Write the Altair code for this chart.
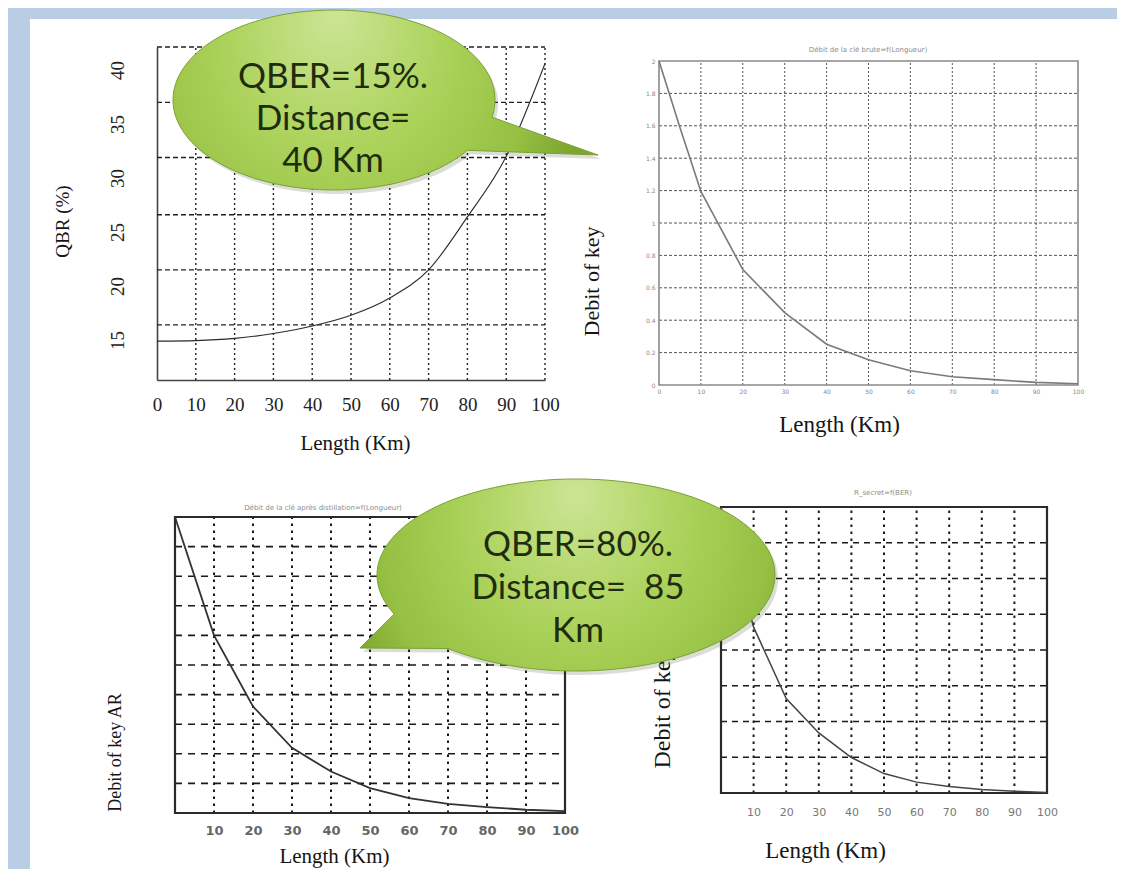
import math
import altair as alt
import pandas as pd

W, H = 1109, 861   # chart size (page 1125x877 minus 8px margins)
M = 8              # reference pixel -> chart pixel offset

# ---------------- data ----------------
tl_km = [0, 10, 20, 30, 40, 50, 60, 70, 80, 90, 100]
tl_qbr = [14.9, 14.95, 15.15, 15.6, 16.3, 17.3, 18.9, 21.5, 26.4, 32.0, 40.6]
tl_x_ticks = [0, 10, 20, 30, 40, 50, 60, 70, 80, 90, 100]
tl_y_ticks = [15, 20, 25, 30, 35, 40]
tl_v_grid = [10, 20, 30, 40, 50, 60, 70, 80, 90, 100]
tl_h_grid = [16.4, 21.5, 26.6, 31.9, 37.0, 42.13]

tr_km = [0, 5, 10, 20, 30, 40, 50, 60, 70, 80, 90, 100]
tr_debit = [2.0, 1.59, 1.195, 0.713, 0.447, 0.252, 0.156, 0.088, 0.051, 0.033, 0.016, 0.008]
tr_x_ticks = [0, 10, 20, 30, 40, 50, 60, 70, 80, 90, 100]
tr_y_ticks = [0, 0.2, 0.4, 0.6, 0.8, 1, 1.2, 1.4, 1.6, 1.8, 2]
tr_v_grid = [10, 20, 30, 40, 50, 60, 70, 80, 90]
tr_h_grid = [0.2, 0.4, 0.6, 0.8, 1.0, 1.2, 1.4, 1.6, 1.8]

bl_km = [0, 10, 20, 30, 40, 50, 60, 70, 80, 90, 100]
bl_debit_ar = [1.0, 0.60, 0.36, 0.22, 0.14, 0.084, 0.05, 0.031, 0.02, 0.011, 0.006]
bl_x_ticks = [10, 20, 30, 40, 50, 60, 70, 80, 90, 100]
bl_v_grid = [10, 20, 30, 40, 50, 60, 70, 80, 90]
bl_h_grid = [0.1, 0.2, 0.3, 0.4, 0.5, 0.6, 0.7, 0.8, 0.9]

br_km = [0, 10, 20, 30, 40, 50, 60, 70, 80, 90, 100]
br_debit = [1.0, 0.58, 0.33, 0.21, 0.124, 0.068, 0.038, 0.023, 0.012, 0.006, 0.002]
br_x_ticks = [10, 20, 30, 40, 50, 60, 70, 80, 90, 100]
br_v_grid = [10, 20, 30, 40, 50, 60, 70, 80, 90]
br_h_grid = [0.125, 0.25, 0.375, 0.5, 0.625, 0.75, 0.875]

x_title = "Length (Km)"
tl_y_title = "QBR (%)"
tr_title = "Débit de la clé brute=f(Longueur)"
tr_y_title = "Debit of key"
bl_title = "Débit de la clé après distillation=f(Longueur)"
bl_y_title = "Debit of key AR"
br_title = "R_secret=f(BER)"
br_y_title = "Debit of key"

bubble1_lines = ["QBER=15%.", "Distance=", "40 Km"]
bubble2_lines = ["QBER=80%.", "Distance=\u00a0 85", "Km"]

SERIF = "Liberation Serif"
ONE = alt.Data(values=[{"k": 0}])


def scales(box, xdom, ydom):
    x0, x1, yb, yt = box
    sx = alt.Scale(domain=xdom, range=[x0 - M, x1 - M], nice=False, zero=False)
    sy = alt.Scale(domain=ydom, range=[yb - M, yt - M], nice=False, zero=False)
    return sx, sy


def panel(box, xdom, ydom, km, vals, line_mark, vgrid, hgrid, vstyle, hstyle,
          frame_style, xaxis, yaxis):
    # every layer of a panel carries the very same axis definition so that the
    # shared axes merge without conflict
    sx, sy = scales(box, xdom, ydom)
    layers = []
    vg = alt.Chart(pd.DataFrame({"g": vgrid})).mark_rule(**vstyle).encode(
        x=alt.X("g:Q", scale=sx, axis=xaxis),
        y=alt.YDatum(ydom[0], type="quantitative", scale=sy, axis=yaxis),
        y2=alt.Y2Datum(ydom[1]),
    )
    hg = alt.Chart(pd.DataFrame({"g": hgrid})).mark_rule(**hstyle).encode(
        y=alt.Y("g:Q", scale=sy, axis=yaxis),
        x=alt.XDatum(xdom[0], type="quantitative", scale=sx, axis=xaxis),
        x2=alt.X2Datum(xdom[1]),
    )
    layers += [vg, hg]
    if frame_style:
        fr = alt.Chart(ONE).mark_rect(fill="transparent", **frame_style).encode(
            x=alt.XDatum(xdom[0], type="quantitative", scale=sx, axis=xaxis),
            x2=alt.X2Datum(xdom[1]),
            y=alt.YDatum(ydom[0], type="quantitative", scale=sy, axis=yaxis),
            y2=alt.Y2Datum(ydom[1]),
        )
        layers.append(fr)
    ln = alt.Chart(pd.DataFrame({"km": km, "v": vals})).mark_line(**line_mark).encode(
        x=alt.X("km:Q", scale=sx, axis=xaxis),
        y=alt.Y("v:Q", scale=sy, axis=yaxis),
    )
    layers.append(ln)
    return alt.layer(*layers)


def title_kw(text, size, tx, ty, angle):
    return dict(title=text, titleFont=SERIF, titleFontSize=size, titleFontWeight="normal",
                titleColor="#151515", titleX=tx, titleY=ty, titleAngle=angle,
                titleAlign="center", titleBaseline="middle")


# ---------------- top-left: QBR vs length ----------------
tl_box = (157, 545, 380, 47)
tl = panel(
    tl_box, [0, 100], [11.3, 42.13], tl_km, tl_qbr,
    dict(color="#2a2a2a", strokeWidth=1.1, interpolate="monotone"),
    tl_v_grid, tl_h_grid,
    dict(color="#222", strokeWidth=1.4, strokeDash=[2, 3]),
    dict(color="#222", strokeWidth=1.4, strokeDash=[5, 3]),
    None,
    alt.Axis(orient="bottom", offset=(380 - M) - H, values=tl_x_ticks, grid=False, ticks=False,
             domainColor="#444", domainWidth=1.6, labelFont=SERIF, labelFontSize=19,
             labelColor="#222", labelPadding=15, labelFlush=False, labelOverlap=False,
             **title_kw(x_title, 21, 355 - M, 443 - 380, 0)),
    alt.Axis(orient="left", offset=-(157 - M), values=tl_y_ticks, grid=False, ticks=False,
             domainColor="#444", domainWidth=1.6, labelFont=SERIF, labelFontSize=19,
             labelColor="#222", labelAngle=270, labelAlign="center", labelBaseline="bottom",
             labelPadding=30, labelFlush=False, labelOverlap=False,
             **title_kw(tl_y_title, 19, 62 - 157, 221 - M, 270)),
)

# ---------------- top-right: key rate vs length ----------------
tr_box = (659, 1078, 385, 61)
tr = panel(
    tr_box, [0, 100], [0, 2], tr_km, tr_debit,
    dict(color="#7a7a7a", strokeWidth=1.6),
    tr_v_grid, tr_h_grid,
    dict(color="#555", strokeWidth=1, strokeDash=[2, 2]),
    dict(color="#555", strokeWidth=1, strokeDash=[3, 2]),
    dict(stroke="#8a8a8a", strokeWidth=1.6),
    alt.Axis(orient="bottom", offset=(385 - M) - H, values=tr_x_ticks, grid=False, ticks=False,
             domain=False, labelFont="DejaVu Sans", labelFontSize=6, labelColor="#888",
             labelPadding=3, labelFlush=False, labelOverlap=False,
             **title_kw(x_title, 23, 839 - M, 424 - 385, 0)),
    alt.Axis(orient="left", offset=-(659 - M), values=tr_y_ticks, format="~g", grid=False,
             ticks=False, domain=False, labelFont="DejaVu Sans", labelFontSize=6,
             labelColor="#888", labelPadding=4, labelFlush=False, labelOverlap=False,
             **title_kw(tr_y_title, 22, 591 - 659, 281 - M, 270)),
)

# ---------------- bottom-left: key rate AR vs length ----------------
bl_box = (175, 565, 813, 517)
bl = panel(
    bl_box, [0, 100], [0, 1], bl_km, bl_debit_ar,
    dict(color="#333", strokeWidth=1.8),
    bl_v_grid, bl_h_grid,
    dict(color="#1a1a1a", strokeWidth=2, strokeDash=[2.5, 4.5]),
    dict(color="#1a1a1a", strokeWidth=1.6, strokeDash=[7, 6]),
    dict(stroke="#2a2a2a", strokeWidth=2.2),
    alt.Axis(orient="bottom", offset=(813 - M) - H, values=bl_x_ticks, grid=False, ticks=False,
             domain=False, labelFont="DejaVu Sans", labelFontSize=13, labelColor="#666",
             labelFontWeight="bold", labelPadding=11, labelFlush=False, labelOverlap=False,
             **title_kw(x_title, 21, 334 - M, 856 - 813, 0)),
    alt.Axis(orient="left", offset=-(175 - M), grid=False, ticks=False, domain=False,
             labels=False, **title_kw(bl_y_title, 18, 115 - 175, 752 - M, 270)),
)

# ---------------- bottom-right: secret key rate vs length ----------------
br_box = (721, 1047, 793, 507)
br = panel(
    br_box, [0, 100], [0, 1], br_km, br_debit,
    dict(color="#444", strokeWidth=1.5),
    br_v_grid, br_h_grid,
    dict(color="#1a1a1a", strokeWidth=2, strokeDash=[2.5, 4.5]),
    dict(color="#1a1a1a", strokeWidth=1.6, strokeDash=[6, 5]),
    dict(stroke="#2a2a2a", strokeWidth=2.2),
    alt.Axis(orient="bottom", offset=(793 - M) - H, values=br_x_ticks, grid=False, ticks=False,
             domain=False, labelFont="DejaVu Sans", labelFontSize=11, labelColor="#777",
             labelPadding=13, labelFlush=False, labelOverlap=False,
             **title_kw(x_title, 23, 825 - M, 850 - 793, 0)),
    alt.Axis(orient="left", offset=-(721 - M), grid=False, ticks=False, domain=False,
             labels=False, **title_kw(br_y_title, 24, 662 - 721, 708 - M, 270)),
)

# ---------------- slide decoration ----------------
strip_left = alt.Chart(ONE).mark_rect(color="#b9cde5").encode(
    x=alt.value(0), x2=alt.value(22), y=alt.value(0), y2=alt.value(H))
strip_top = alt.Chart(ONE).mark_rect(color="#b9cde5").encode(
    x=alt.value(0), x2=alt.value(W), y=alt.value(0), y2=alt.value(11))


def tiny_title(text, cx, cy):
    return alt.Chart(ONE).mark_text(text=text, font="DejaVu Sans", fontSize=7,
                                    color="#8c8c8c").encode(
        x=alt.value(cx - M), y=alt.value(cy - M))


titles = [tiny_title(tr_title, 868, 50), tiny_title(bl_title, 323, 508),
          tiny_title(br_title, 883, 493)]


def bubble_path(rx, ry, a_from, a_to, tip, n=160):
    pts = [tip]
    for i in range(n + 1):
        t = math.radians(a_from + (a_to - a_from) * i / n)
        pts.append((rx * math.cos(t), ry * math.sin(t)))
    return "M" + " L".join(f"{x:.1f},{y:.1f}" for x, y in pts) + " Z"


def bubble(cx, cy, rx, ry, a_from, a_to, tip, gx, lines, tx, ty, lh):
    path = bubble_path(rx, ry, a_from, a_to, tip)
    grad = {
        "gradient": "radial",
        "x1": gx, "y1": 0.30, "r1": 0,
        "x2": gx, "y2": 0.45, "r2": 0.58,
        "stops": [
            {"offset": 0, "color": "#cce595"},
            {"offset": 0.45, "color": "#abd25a"},
            {"offset": 0.8, "color": "#95c042"},
            {"offset": 1, "color": "#7ea52f"},
        ],
    }
    shadow = alt.Chart(ONE).mark_point(shape=path, size=4, filled=True, fill="#3a4a20",
                                       opacity=0.18, strokeWidth=0).encode(
        x=alt.value(cx - M + 3), y=alt.value(cy - M + 4))
    body = alt.Chart(ONE).mark_point(shape=path, size=4, filled=True, fill=grad, opacity=1,
                                     stroke="#7c9f36", strokeWidth=1).encode(
        x=alt.value(cx - M), y=alt.value(cy - M))
    text = alt.Chart(ONE).mark_text(text=lines, font="Lato", fontSize=35, color="#1f2c0e",
                                    lineHeight=lh, align="center", baseline="middle").encode(
        x=alt.value(tx - M), y=alt.value(ty - M))
    return [shadow, body, text]


# text y is the centre of the first line
b1 = bubble(334, 100, 161, 90, 34, 371, (264, 55), 0.38, bubble1_lines, 333, 77, 42)
b2 = bubble(576, 575, 199, 96, 156, 490, (-216, 73), 0.52, bubble2_lines, 578, 545, 43)

chart = alt.layer(
    strip_left, strip_top, tl, tr, bl, br, *titles, *b1, *b2
).resolve_scale(
    x="independent", y="independent"
).properties(
    width=W, height=H, padding=0, autosize=alt.AutoSizeParams(type="none")
).configure(
    background="white"
).configure_view(
    strokeWidth=0
)

chart.save("out.html", embed_options={"renderer": "svg", "actions": False})
